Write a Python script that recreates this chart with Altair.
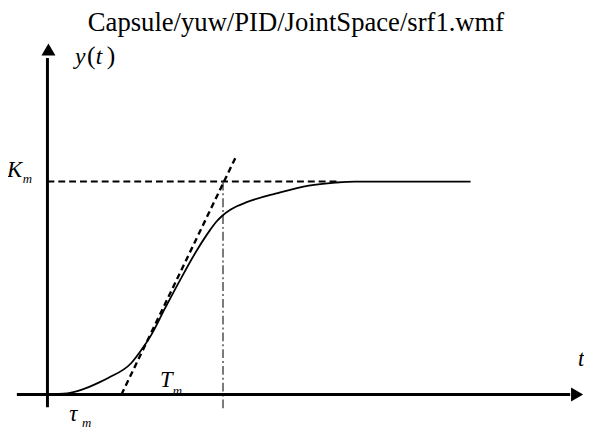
import altair as alt
import pandas as pd

# step response curve (t in arbitrary time units, y normalised so Km = 1)
curve_t = [0, 2, 3.5, 5.2, 6.2, 8.5, 9.5, 10.5, 11.9, 13.5, 15.2, 16.5, 17.1, 17.7, 18.5, 19.2, 20.2, 23.2, 26.5, 29.2, 31.2, 42.9]
curve_y = [0, 0.005, 0.023, 0.056, 0.079, 0.148, 0.208, 0.278, 0.403, 0.542, 0.681, 0.773, 0.81, 0.838, 0.866, 0.884, 0.903, 0.944, 0.981, 0.995, 1.0, 1.0]

tangent_t = [7.5, 19.2]
tangent_y = [0.0, 1.125]

km_t = [0, 29.5]
km_y = [1.0, 1.0]

tm_t = [17.8, 17.8]
tm_y = [1.0, -0.07]

xaxis_t = [-3.1, 53]
xaxis_y = [0, 0]
yaxis_t = [0, 0]
yaxis_y = [-0.06, 1.58]

# labels
ital_text = ["y", "t"]
ital_t = [2.8, 4.9]
ital_y = [1.551, 1.551]
paren_text = ["(", ")"]
paren_t = [4.0, 6.0]
paren_y = [1.551, 1.551]
sym_text = ["K", "t", "T", "τ"]
sym_t = [-4.1, 53.8, 11.4, 2.2]
sym_y = [1.023, 0.134, 0.037, -0.125]
sub_text = ["m", "m", "m"]
sub_t = [-2.5, 12.7, 3.5]
sub_y = [0.991, 0.0, -0.150]

title_text = "Capsule/yuw/PID/JointSpace/srf1.wmf"

SERIF = "Liberation Serif, Times New Roman, serif"

X = alt.Scale(domain=[-4, 54.4], nice=False, zero=False)
Y = alt.Scale(domain=[-0.1528, 1.8009], nice=False, zero=False)

def enc(**kw):
    return dict(
        x=alt.X("t:Q", scale=X, axis=None),
        y=alt.Y("y:Q", scale=Y, axis=None),
        **kw,
    )

def line_df(ts, ys):
    return pd.DataFrame({"t": ts, "y": ys, "o": list(range(len(ts)))})

def text_layer(ts, ys, labels, size, style="normal"):
    return alt.Chart(pd.DataFrame({"t": ts, "y": ys, "label": labels})).mark_text(
        font=SERIF, fontStyle=style, fontSize=size, align="left",
        baseline="alphabetic", color="black"
    ).encode(**enc(text="label:N"))

curve = alt.Chart(line_df(curve_t, curve_y)).mark_line(
    color="black", strokeWidth=1.8, interpolate="monotone"
).encode(**enc(order="o:Q"))

tangent = alt.Chart(line_df(tangent_t, tangent_y)).mark_line(
    color="black", strokeWidth=2.4, strokeDash=[6, 4]
).encode(**enc(order="o:Q"))

km = alt.Chart(line_df(km_t, km_y)).mark_line(
    color="black", strokeWidth=2, strokeDash=[7, 4]
).encode(**enc(order="o:Q"))

tm = alt.Chart(line_df(tm_t, tm_y)).mark_line(
    color="#333333", strokeWidth=1.3, strokeDash=[9, 3, 2, 3]
).encode(**enc(order="o:Q"))

xaxis = alt.Chart(line_df(xaxis_t, xaxis_y)).mark_line(
    color="black", strokeWidth=3
).encode(**enc(order="o:Q"))

yaxis = alt.Chart(line_df(yaxis_t, yaxis_y)).mark_line(
    color="black", strokeWidth=3
).encode(**enc(order="o:Q"))

arrow_up = alt.Chart(pd.DataFrame({"t": [0.1], "y": [1.62]})).mark_point(
    shape="triangle-up", filled=True, color="black", size=200, opacity=1
).encode(**enc())

arrow_right = alt.Chart(pd.DataFrame({"t": [53.7], "y": [0.0]})).mark_point(
    shape="triangle-right", filled=True, color="black", size=200, opacity=1
).encode(**enc())

ital = text_layer(ital_t, ital_y, ital_text, 24, "italic")
paren = text_layer(paren_t, paren_y, paren_text, 26)
sym = text_layer(sym_t, sym_y, sym_text, 23, "italic")
sub = text_layer(sub_t, sub_y, sub_text, 13, "italic")

title = alt.Chart(pd.DataFrame({"t": [25.2], "y": [1.708], "label": [title_text]})).mark_text(
    font=SERIF, fontSize=27, align="center", baseline="alphabetic", color="black"
).encode(**enc(text="label:N"))

chart = alt.layer(
    km, tm, tangent, curve, sub, xaxis, yaxis, arrow_up, arrow_right, ital, paren, sym, title
).properties(
    width=584, height=422, padding=0,
    autosize=alt.AutoSizeParams(type="none"),
).configure_view(stroke=None)

chart.save("out.html", embed_options={"renderer": "svg", "actions": False})
